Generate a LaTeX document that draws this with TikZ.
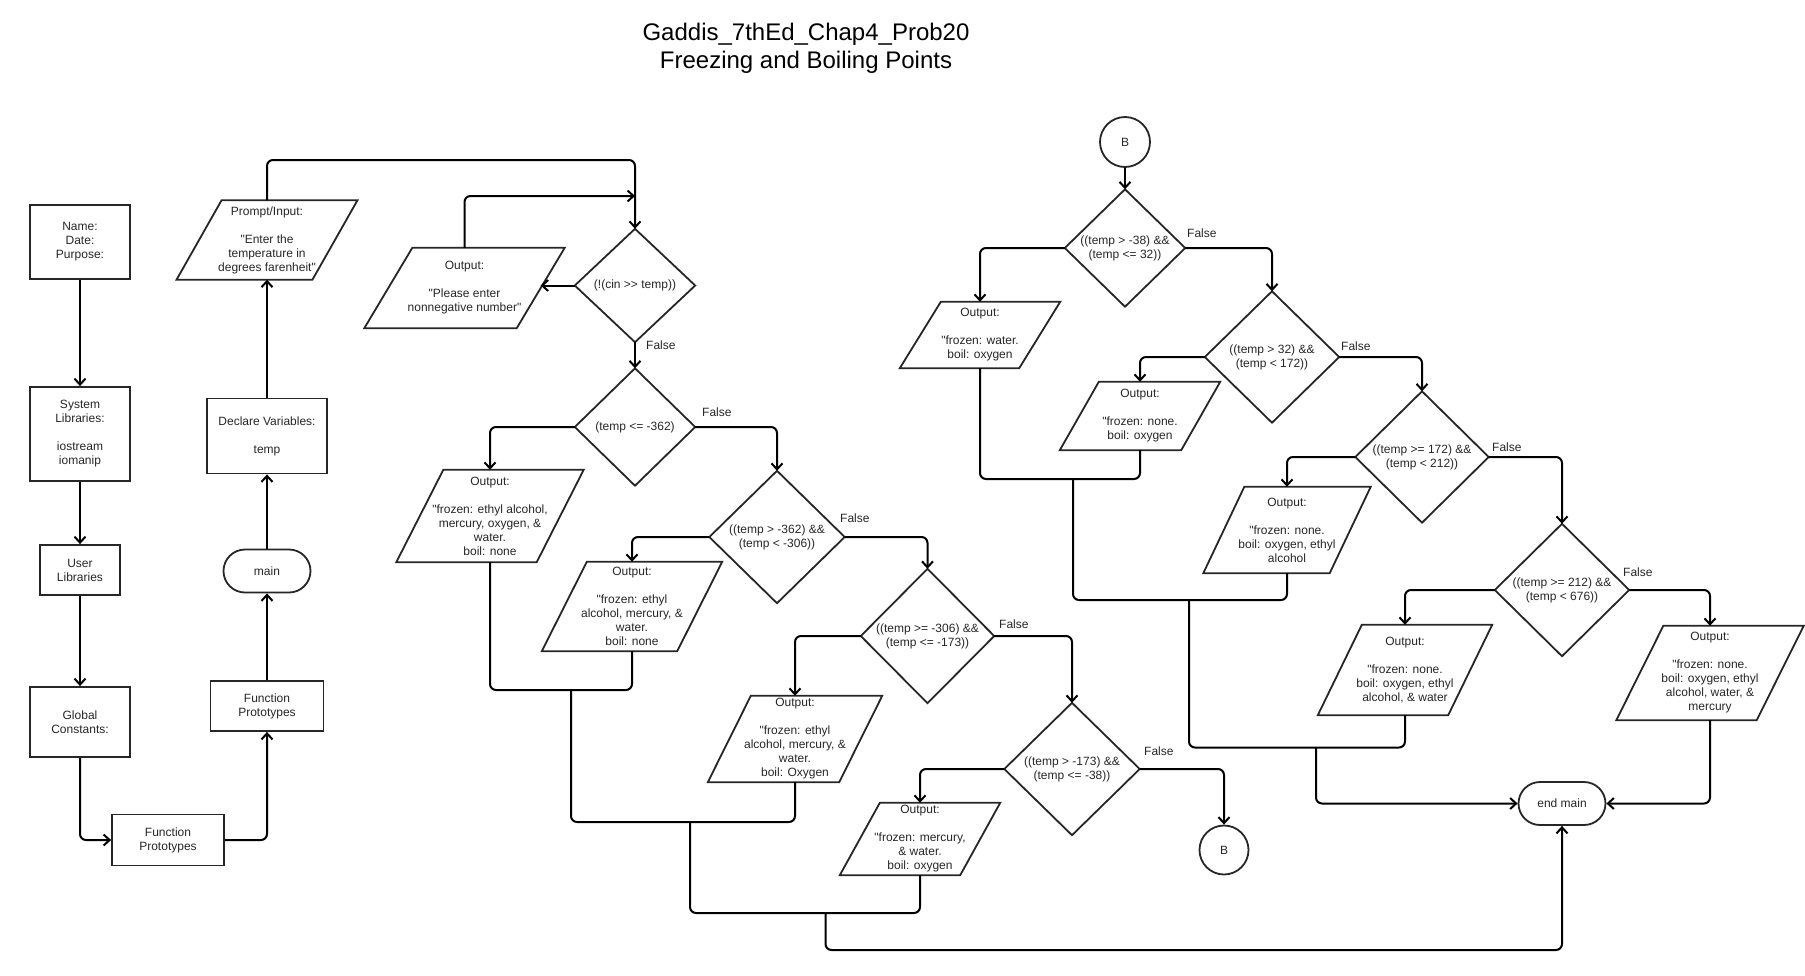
\documentclass[tikz,border=0pt]{standalone}
\usepackage{fontspec}
\setmainfont{Liberation Sans}[Ligatures=TeXOff]
\usetikzlibrary{arrows.meta,calc}
\colorlet{shapecol}{black!85}
\colorlet{txtcol}{black!85}
\begin{document}
\begin{tikzpicture}[x=1pt,y=-1pt,
  nbase/.style={font=\fontsize{12}{14}\selectfont, text=txtcol, align=center, inner sep=0pt},
  nsz/.style 2 args={minimum width=#1pt, minimum height=#2pt},
  nbox/.style={nbase, rectangle, draw=shapecol, line width=1.8pt},
  nterm/.style={nbox, rounded corners=21.5pt},
  ntext/.style={nbase, rectangle},
  nshape/.style={draw=shapecol, line width=1.8pt, line join=miter},
  nconn/.style={draw=black, line width=2pt, rounded corners=6pt},
  narr/.style={nconn, -{Straight Barb[length=6pt,width=11pt]}},
  nlbl/.style={nbase, anchor=west},
  ntitle/.style={font=\fontsize{24}{28}\selectfont, text=black, align=center, inner sep=0pt}
]
\useasboundingbox (0,0) rectangle (1805,975);

% title
\node[ntitle] (title) at (806,48.5) {Gaddis\_7thEd\_Chap4\_Prob20\\Freezing and Boiling Points};

% left column
\node[nbox, nsz={100}{74}] (name) at (80,242) {Name:\\Date:\\Purpose:};
\node[nbox, nsz={100}{94}] (syslib) at (80,434) {System\\Libraries:\\[14pt]iostream\\iomanip};
\node[nbox, nsz={80}{50}] (userlib) at (80,570) {User\\Libraries};
\node[nbox, nsz={100}{70}] (globc) at (80,722) {Global\\Constants:};
\node[nbox, nsz={112}{51}] (fp1) at (168,840) {Function\\Prototypes};
\node[nbox, nsz={113}{50}] (fp2) at (267,706) {Function\\Prototypes};
\node[nterm, nsz={87}{43}] (main) at (267,571) {main};
\node[nbox, nsz={120}{75}] (declv) at (267,436) {Declare Variables:\\[14pt]temp};
\node[ntext, nsz={135.5}{79}] (prompt) at (267,240) {Prompt/Input:\\[14pt]"Enter the\\temperature in\\degrees farenheit"};

% middle column
\node[ntext, nsz={152}{80}] (o1) at (464.5,288) {Output:\\[14pt]"Please enter\\nonnegative number"};
\node[ntext, nsz={120}{113}] (d1) at (635,285.5) {(!(cin >> temp))};
\node[ntext, nsz={120}{117}] (d2) at (635,427) {(temp <= -362)};
\node[ntext, nsz={140}{92}] (o2) at (490,516) {Output:\\[14pt]"frozen: ethyl alcohol,\\mercury, oxygen, \&\\water.\\boil: none};
\node[ntext, nsz={135}{132}] (d3) at (777,537) {((temp > -362) \&\&\\(temp < -306))};
\node[ntext, nsz={135}{89}] (o3) at (632,606.5) {Output:\\[14pt]"frozen: ethyl\\alcohol, mercury, \&\\water.\\boil: none};
\node[ntext, nsz={133}{134}] (d4) at (927.5,636) {((temp >= -306) \&\&\\(temp <= -173))};
\node[ntext, nsz={131}{86}] (o4) at (795,739) {Output:\\[14pt]"frozen: ethyl\\alcohol, mercury, \&\\water.\\boil: Oxygen};
\node[ntext, nsz={135}{132}] (d5) at (1072,769) {((temp > -173) \&\&\\(temp <= -38))};
\node[ntext, nsz={120}{72}] (o5) at (920,839) {Output:\\[14pt]"frozen: mercury,\\\& water.\\boil: oxygen};
\node[nbox, circle, minimum size=49pt] (b1) at (1224,850) {B};

% right column
\node[nbox, circle, minimum size=50pt] (b2) at (1125,142) {B};
\node[ntext, nsz={120}{117}] (d6) at (1125,248) {((temp > -38) \&\&\\(temp <= 32))};
\node[ntext, nsz={119}{66}] (o6) at (980,335) {Output:\\[14pt]"frozen: water.\\boil: oxygen};
\node[ntext, nsz={134}{131}] (d7) at (1272,357) {((temp > 32) \&\&\\(temp < 172))};
\node[ntext, nsz={121}{68}] (o7) at (1140,416) {Output:\\[14pt]"frozen: none.\\boil: oxygen};
\node[ntext, nsz={133}{131}] (d8) at (1422,457) {((temp >= 172) \&\&\\(temp < 212))};
\node[ntext, nsz={126}{86}] (o8) at (1287,530) {Output:\\[14pt]"frozen: none.\\boil: oxygen, ethyl\\alcohol};
\node[ntext, nsz={134}{132}] (d9) at (1562,590) {((temp >= 212) \&\&\\(temp < 676))};
\node[ntext, nsz={130}{90}] (o9) at (1405,670) {Output:\\[14pt]"frozen: none.\\boil: oxygen, ethyl\\alcohol, \& water};
\node[ntext, nsz={140}{94}] (o10) at (1710,673) {Output:\\[14pt]"frozen: none.\\boil: oxygen, ethyl\\alcohol, water, \&\\mercury};
\node[nterm, nsz={87}{43}] (endmain) at (1562,803.5) {end main};

% outlines of diamonds
\foreach \n in {d1,d2,d3,d4,d5,d6,d7,d8,d9}
  \draw[nshape] (\n.north) -- (\n.east) -- (\n.south) -- (\n.west) -- cycle;
% outlines of parallelograms
\foreach \n/\s in {prompt/45,o1/48,o2/47,o3/45,o4/43,o5/40,o6/41,o7/39,o8/41,o9/44,o10/47}
  \draw[nshape] ($(\n.north west)+(\s/2,0)$) -- ($(\n.north east)+(\s/2,0)$)
     -- ($(\n.south east)+(-\s/2,0)$) -- ($(\n.south west)+(-\s/2,0)$) -- cycle;

% False labels
\node[nlbl] (f1) at (646,345) {False};
\node[nlbl] (f2) at (702,412) {False};
\node[nlbl] (f3) at (840,518) {False};
\node[nlbl] (f4) at (999,624) {False};
\node[nlbl] (f5) at (1144,751) {False};
\node[nlbl] (f6) at (1187,233) {False};
\node[nlbl] (f7) at (1341,346) {False};
\node[nlbl] (f8) at (1492,447) {False};
\node[nlbl] (f9) at (1623,572) {False};

% left column connectors
\draw[narr] (name.south) -- (syslib.north);
\draw[narr] (syslib.south) -- (userlib.north);
\draw[narr] (userlib.south) -- (globc.north);
\draw[narr] (globc.south) |- (fp1.west);
\draw[narr] (fp1.east) -| (fp2.south);
\draw[narr] (fp2.north) -- (main.south);
\draw[narr] (main.north) -- (declv.south);
\draw[narr] (declv.north) -- (prompt.south);
\coordinate (top1) at (635,160);
\draw[narr] (prompt.north) |- (top1) -- (d1.north);
\draw[narr] (d1.west) -- (d1.west -| o1.east);
\coordinate (loop1) at (635,196);
\draw[narr] (o1.north) |- (loop1);

% decision chain
\draw[narr] (d1.south) -- (d2.north);
\draw[narr] (d2.west) -| (o2.north);
\draw[narr] (d2.east) -| (d3.north);
\draw[narr] (d3.west) -| (o3.north);
\draw[narr] (d3.east) -| (d4.north);
\draw[narr] (d4.west) -| (o4.north);
\draw[narr] (d4.east) -| (d5.north);
\draw[narr] (d5.west) -| (o5.north);
\draw[narr] (d5.east) -| (b1.north);
\draw[narr] (b2.south) -- (d6.north);
\draw[narr] (d6.west) -| (o6.north);
\draw[narr] (d6.east) -| (d7.north);
\draw[narr] (d7.west) -| (o7.north);
\draw[narr] (d7.east) -| (d8.north);
\draw[narr] (d8.west) -| (o8.north);
\draw[narr] (d8.east) -| (d9.north);
\draw[narr] (d9.west) -| (o9.north);
\draw[narr] (d9.east) -| (o10.north);

% merges, left group
\coordinate (m1) at (571,690);
\draw[nconn] (o2.south) |- (m1) -| (o3.south);
\coordinate (m2) at (690,822);
\draw[nconn] (m1) |- (m2) -| (o4.south);
\coordinate (m3) at (825.5,913);
\draw[nconn] (m2) |- (m3) -| (o5.south);
\coordinate (m4) at (1562,950);
\draw[narr] (m3) |- (m4) -- (endmain.south);

% merges, right group
\coordinate (n1) at (1073,479);
\draw[nconn] (o6.south) |- (n1) -| (o7.south);
\coordinate (n2) at (1189,600);
\draw[nconn] (n1) |- (n2) -| (o8.south);
\coordinate (n3) at (1316,747.5);
\draw[nconn] (n2) |- (n3) -| (o9.south);
\draw[narr] (n3) |- (endmain.west);
\draw[narr] (o10.south) |- (endmain.east);
\end{tikzpicture}
\end{document}
